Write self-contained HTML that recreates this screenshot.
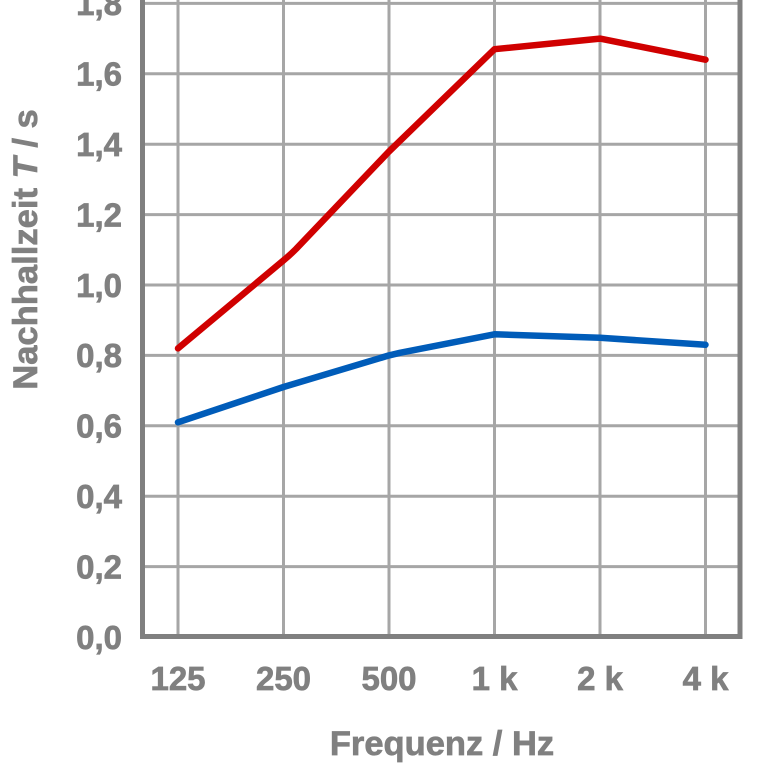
<!DOCTYPE html>
<html><head><meta charset="utf-8"><style>
html,body{margin:0;padding:0;background:#fff;width:768px;height:768px;overflow:hidden}
svg{display:block}
text{font-family:"Liberation Sans",sans-serif;font-weight:bold;fill:#808080;stroke:#808080;stroke-width:0.7}
</style></head><body>
<svg width="768" height="768" viewBox="0 0 768 768" xmlns="http://www.w3.org/2000/svg">
<g stroke="#a6a6a6" stroke-width="3">
<line x1="142" y1="3.4" x2="740" y2="3.4"/>
<line x1="142" y1="73.8" x2="740" y2="73.8"/>
<line x1="142" y1="144.2" x2="740" y2="144.2"/>
<line x1="142" y1="214.6" x2="740" y2="214.6"/>
<line x1="142" y1="285" x2="740" y2="285"/>
<line x1="142" y1="355.4" x2="740" y2="355.4"/>
<line x1="142" y1="425.8" x2="740" y2="425.8"/>
<line x1="142" y1="496.2" x2="740" y2="496.2"/>
<line x1="142" y1="566.6" x2="740" y2="566.6"/>
<line x1="178" y1="-10" x2="178" y2="637"/>
<line x1="283.5" y1="-10" x2="283.5" y2="637"/>
<line x1="389" y1="-10" x2="389" y2="637"/>
<line x1="494.5" y1="-10" x2="494.5" y2="637"/>
<line x1="600" y1="-10" x2="600" y2="637"/>
<line x1="705.5" y1="-10" x2="705.5" y2="637"/>
</g>
<g stroke="#808080" stroke-width="5" fill="none">
<polyline points="142.5,-10 142.5,636.5 740,636.5 740,-10"/>
</g>
<path d="M178,348.4 L283.5,260.4 Q290,255 296,249 L389,151.5 L494.5,49.2 L600,38.6 L705.5,59.7" fill="none" stroke="#d00000" stroke-width="6.5" stroke-linecap="round" stroke-linejoin="round"/>
<path d="M178,422.3 L283.5,387 L389,355.4 Q395,354 400,352.8 L494.5,334.3 L600,337.8 L705.5,344.8" fill="none" stroke="#005cb9" stroke-width="6.5" stroke-linecap="round" stroke-linejoin="round"/>
<g font-size="33" text-anchor="end">
<text x="122" y="15">1,8</text>
<text x="122" y="85.5">1,6</text>
<text x="122" y="156">1,4</text>
<text x="122" y="226.5">1,2</text>
<text x="122" y="297">1,0</text>
<text x="122" y="367">0,8</text>
<text x="122" y="437.5">0,6</text>
<text x="122" y="508">0,4</text>
<text x="122" y="578.5">0,2</text>
<text x="122" y="649">0,0</text>
</g>
<g font-size="33" text-anchor="middle">
<text x="178" y="690">125</text>
<text x="283.5" y="690">250</text>
<text x="389" y="690">500</text>
<text x="494.5" y="690">1 k</text>
<text x="600" y="690">2 k</text>
<text x="705.5" y="690">4 k</text>
</g>
<text x="442" y="755" font-size="34.5" text-anchor="middle">Frequenz / Hz</text>
<text transform="translate(37,249.5) rotate(-90)" font-size="34.6" text-anchor="middle">Nachhallzeit <tspan font-style="italic">T</tspan> / s</text>
</svg>
</body></html>
